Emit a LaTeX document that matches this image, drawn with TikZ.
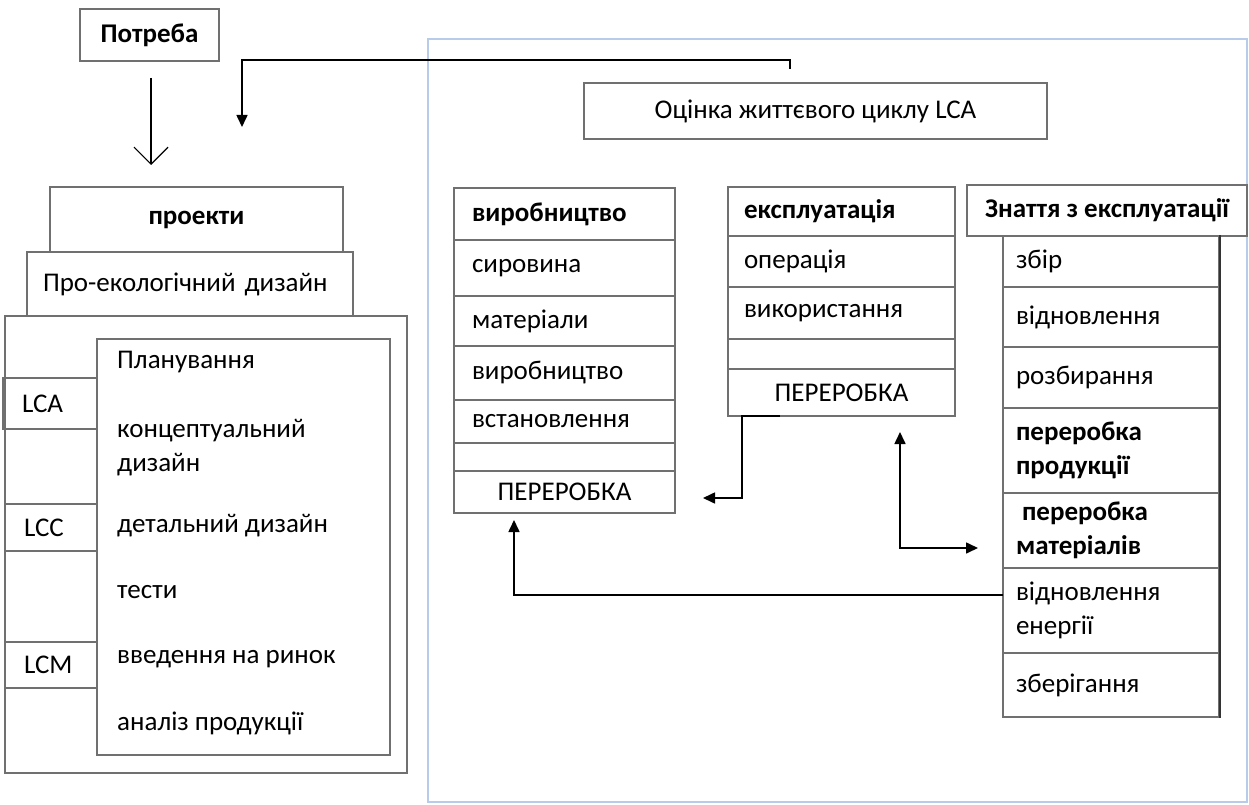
\documentclass[tikz,border=0pt]{standalone}
\usepackage{fontspec}
\setmainfont{Carlito}
\usetikzlibrary{arrows.meta}
\definecolor{linegray}{HTML}{707070}
\definecolor{frameblue}{HTML}{B8CCEA}
% left-aligned cell: [opts]{pad}{x1}{y1}{x2}{y2}{name}{text}
\newcommand{\cellL}[8][]{%
 \pgfmathsetmacro{\cbw}{#5-#3}%
 \pgfmathsetmacro{\cbh}{#6-#4}%
 \pgfmathsetmacro{\cbt}{#5-#3-2*#2}%
 \node[cell,inner xsep=#2pt,text width=\cbt pt,align=left,minimum height=\cbh pt,#1] (#7) at ({(#3+#5)/2},{(#4+#6)/2}) {#8};}
% centred cell: [opts]{x1}{y1}{x2}{y2}{name}{text}
\newcommand{\cellC}[7][]{%
 \pgfmathsetmacro{\cbw}{#4-#2}%
 \pgfmathsetmacro{\cbh}{#5-#3}%
 \node[cell,align=center,minimum width=\cbw pt,minimum height=\cbh pt,#1] (#6) at ({(#2+#4)/2},{(#3+#5)/2}) {#7};}
\tikzset{
 cell/.style={draw=linegray, line width=1.3pt, inner ysep=0pt, inner xsep=0pt, text=black, font=\fontsize{27}{34}\selectfont},
 txt/.style={inner sep=0pt, text=black, font=\fontsize{27}{34}\selectfont},
 hd/.style={font=\fontsize{27}{34}\selectfont\bfseries},
 arr/.style={draw=black, line width=1.6pt, -{Triangle[length=12pt,width=11pt]}},
 arrboth/.style={draw=black, line width=1.6pt, {Triangle[length=12pt,width=11pt]}-{Triangle[length=12pt,width=11pt]}},
 openarr/.style={draw=black, line width=1.2pt, -{Straight Barb[length=17pt,width=34pt,line width=1.2pt]}},
}
\begin{document}
\begin{tikzpicture}[x=1pt,y=-1pt]
\useasboundingbox (0,0) rectangle (1249,805);
% right panel frame
\draw[frameblue, line width=1.5pt] (428,39) rectangle (1247,802);

% left column
\cellC[hd]{80}{9}{219}{61}{potreba}{Потреба}
\cellC[hd]{50}{187}{343}{252}{proekty}{проекти}
\cellL{16}{27}{252}{353}{316}{proeko}{Про-екологічний дизайн}
\cellC{5}{316}{407}{773}{bigbox}{}
\cellC{97}{339}{390}{755}{inner}{}
\cellL{19}{3}{378}{97}{429}{lca}{LCA}
\cellL{19}{5}{504}{97}{551}{lcc}{LCC}
\cellL{19}{5}{642}{97}{688}{lcm}{LCM}
\node[txt,anchor=mid west] (t1) at (117,366) {Планування};
\node[txt,anchor=west,align=left] (t2) at (117,448) {концептуальний\\дизайн};
\node[txt,anchor=mid west] (t3) at (117,530) {детальний дизайн};
\node[txt,anchor=mid west] (t4) at (117,596) {тести};
\node[txt,anchor=mid west] (t5) at (117,661) {введення на ринок};
\node[txt,anchor=mid west] (t6) at (117,728) {аналіз продукції};

% LCA title
\cellC{584}{83}{1047}{139}{ocinka}{Оцінка життєвого циклу LCA}

% production table
\cellL[hd]{18}{454}{188}{675}{240}{v0}{виробництво}
\cellL{18}{454}{240}{675}{296}{v1}{сировина}
\cellL{18}{454}{296}{675}{346}{v2}{матеріали}
\cellL{18}{454}{346}{675}{400}{v3}{виробництво}
\cellL{18}{454}{400}{675}{443}{v4}{встановлення}
\cellL{18}{454}{443}{675}{471}{v5}{}
\cellC{454}{471}{675}{513}{v6}{ПЕРЕРОБКА}

% operation table
\cellL[hd]{16}{728}{187}{955}{236}{e0}{експлуатація}
\cellL{16}{728}{236}{955}{287}{e1}{операція}
\cellL{16}{728}{287}{955}{339}{e2}{використання}
\cellL{16}{728}{339}{955}{369}{e3}{}
\cellC{728}{369}{955}{416}{e4}{ПЕРЕРОБКА}

% decommissioning table
\cellC[hd]{967}{185}{1247}{236}{z0}{Знаття з експлуатації}
\cellL{13}{1003}{236}{1219}{287}{z1}{збір}
\cellL{13}{1003}{287}{1219}{347}{z2}{відновлення}
\cellL{13}{1003}{347}{1219}{408}{z3}{розбирання}
\cellL[hd]{13}{1003}{408}{1219}{493}{z4}{переробка\\продукції}
\cellL[hd]{13}{1003}{493}{1219}{568}{z5}{\hspace*{6pt}переробка\\матеріалів}
\cellL{13}{1003}{568}{1219}{653}{z6}{відновлення\\енергії}
\cellL{13}{1003}{653}{1219}{717}{z7}{зберігання}
\draw[black!80, line width=1.8pt] (z1.north east) -- (z7.south east);

% connectors
\coordinate (pa) at (151,78);
\coordinate (pb) at (151,165);
\draw[openarr] (pa) -- (pb);

\coordinate (la) at (790,69);
\coordinate (lb) at (242,127);
\draw[arr] (la) -- ++(0,-9) -| (lb);

\coordinate (ea) at (780,416);
\coordinate (eb) at (742,416);
\coordinate (ec) at (703,498);
\draw[arr] (ea) -- (eb) |- (ec);

\coordinate (da) at (900,432);
\coordinate (db) at (978,548);
\draw[arrboth] (da) |- (db);

\coordinate (ga) at (1003,595);
\coordinate (gb) at (514,520);
\draw[arr] (ga) -| (gb);
\end{tikzpicture}
\end{document}
